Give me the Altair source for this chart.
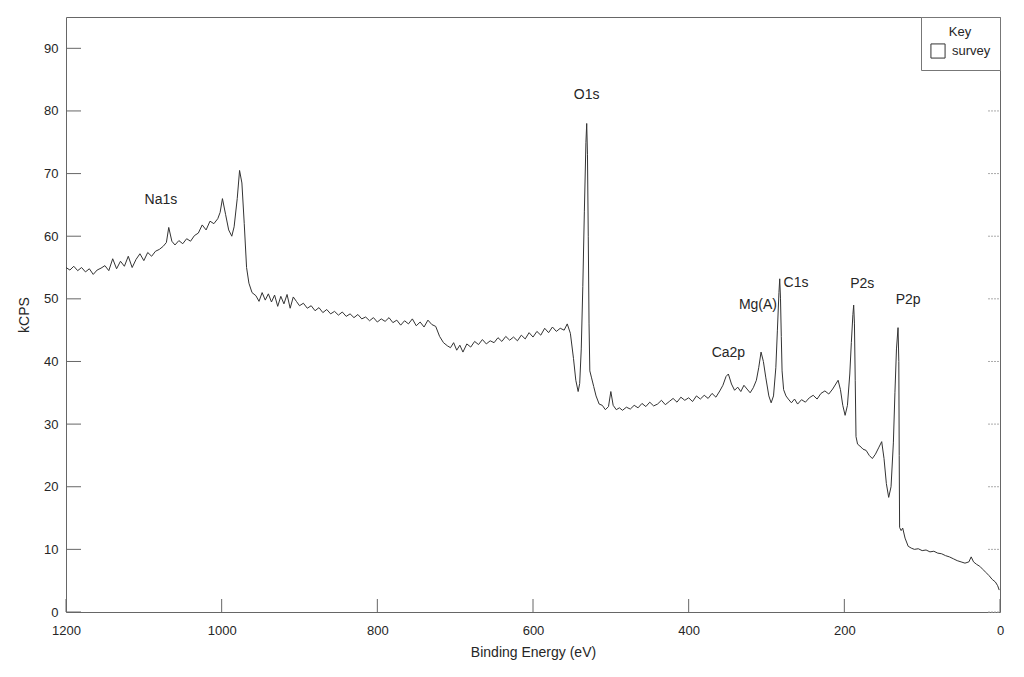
import altair as alt
import pandas as pd

# Binding energy (eV) and intensity (kCPS)
energy = [
    1200, 1195, 1190, 1185, 1180, 1175, 1170, 1165, 1160, 1155, 1150, 1145, 1140, 1135, 1130, 1125,
    1120, 1115, 1110, 1105, 1100, 1095, 1090, 1085, 1080, 1075, 1071, 1068, 1064, 1060, 1055, 1050,
    1045, 1040, 1035, 1030, 1025, 1020, 1015, 1010, 1005, 1002, 999, 995, 991, 987, 984, 980,
    977, 974, 971, 968, 965, 961, 956, 952, 948, 944, 940, 936, 932, 928, 924, 920,
    916, 912, 908, 904, 900, 895, 890, 885, 880, 875, 870, 865, 860, 855, 850, 845,
    840, 835, 830, 825, 820, 815, 810, 805, 800, 795, 790, 785, 780, 775, 770, 765,
    760, 755, 750, 745, 740, 735, 730, 725, 720, 715, 710, 706, 702, 698, 694, 690,
    685, 680, 675, 670, 665, 660, 655, 650, 645, 640, 635, 630, 625, 620, 615, 610,
    605, 600, 595, 590, 585, 580, 575, 570, 565, 560, 556, 552, 548, 545, 542, 540,
    538, 536, 534, 532, 531, 530, 529, 528, 527, 525, 522, 519, 515, 511, 507, 503,
    500, 497, 493, 489, 485, 480, 475, 470, 465, 460, 455, 450, 445, 440, 435, 430,
    425, 420, 415, 410, 405, 400, 395, 390, 385, 380, 375, 370, 365, 360, 356, 352,
    349, 345, 341, 337, 333, 329, 325, 321, 317, 313, 310, 307, 304, 301, 297, 294,
    291, 288, 286, 284, 283, 282, 281, 280, 278, 275, 272, 268, 264, 260, 255, 250,
    245, 240, 235, 230, 225, 220, 215, 211, 208, 205, 202, 199, 196, 193, 191, 189,
    188, 187, 186, 185, 183, 180, 176, 172, 168, 164, 160, 156, 152, 149, 146, 143,
    140, 137, 135, 133, 131, 130, 129.5, 129, 127, 125, 122, 118, 114, 110, 105, 100,
    95, 90, 85, 80, 75, 70, 65, 60, 55, 50, 45, 40, 37, 34, 30, 26,
    22, 18, 14, 10, 6, 3, 1,
]
kcps = [
    55.0, 54.6, 55.2, 54.5, 55.0, 54.3, 54.8, 53.9, 54.6, 54.9, 55.3, 54.5, 56.4, 54.8, 56.0, 55.2,
    56.8, 55.0, 56.3, 57.2, 56.1, 57.4, 56.8, 57.6, 57.9, 58.4, 59.0, 61.4, 59.2, 58.6, 59.3, 58.8,
    59.6, 59.2, 60.1, 60.5, 61.8, 61.0, 62.4, 62.0, 62.8, 63.8, 66.0, 63.5, 61.0, 60.0, 61.5, 66.0,
    70.5, 68.5, 62.0, 55.0, 52.5, 51.0, 50.5, 49.6, 51.0, 49.8, 50.8, 49.5, 50.6, 48.8, 50.4, 49.2,
    50.7, 48.5, 50.3, 49.6, 48.9, 49.3, 48.5, 48.9, 48.1, 48.6, 47.8, 48.3, 47.6, 48.0, 47.4, 47.9,
    47.2, 47.6, 47.0, 47.5, 46.8, 47.1, 46.5, 47.0, 46.3, 46.8, 46.4, 47.0, 46.2, 46.6, 45.8, 46.5,
    46.0, 46.8, 45.7, 46.3, 45.5, 46.6, 45.9, 45.6, 44.0, 43.0, 42.5, 42.2, 43.0, 41.8, 42.6, 41.5,
    42.8, 42.3, 43.2, 42.7, 43.5, 42.8, 43.3, 43.0, 43.8, 43.2, 44.0, 43.4, 43.9, 43.3, 44.2, 43.6,
    44.6, 43.9, 44.8, 44.2, 45.3, 44.6, 45.5, 44.8, 45.3, 45.0, 46.0, 44.5, 40.5, 37.0, 35.2, 36.5,
    42.0, 52.0, 64.0, 75.0, 78.0, 73.0, 60.0, 46.0, 38.5, 37.5, 36.0, 34.5, 33.2, 33.0, 32.3, 32.8,
    35.2, 33.0, 32.3, 32.6, 32.2, 32.7, 32.4, 33.0, 32.6, 33.3, 32.8, 33.5, 32.9, 33.2, 33.8, 33.1,
    33.6, 34.1, 33.5, 34.3, 33.8, 34.2, 33.6, 34.5, 34.0, 34.6, 34.1, 34.9, 34.3, 35.3, 36.2, 37.6,
    38.0, 36.4, 35.4, 35.9, 35.2, 36.2, 35.6, 35.0, 35.8, 37.0, 39.0, 41.5, 40.0, 37.5, 34.5, 33.4,
    34.5, 39.0, 45.0, 51.0, 53.2, 50.0, 44.0, 38.5, 35.5, 34.5, 34.0, 33.4, 34.0, 33.2, 33.9, 33.5,
    34.2, 34.6, 34.0, 34.9, 35.3, 34.8, 35.6, 36.4, 37.0, 35.5, 33.0, 31.4, 33.0, 38.0, 43.0, 47.5,
    49.0, 46.0, 37.0, 28.0, 26.8, 26.5, 26.0, 25.8, 25.0, 24.5, 25.2, 26.2, 27.2, 24.5, 20.5, 18.3,
    20.0, 27.0, 35.0, 42.0, 45.4, 40.0, 25.0, 13.5, 13.0, 13.4, 11.8, 10.5, 10.2, 10.0, 10.1, 9.8,
    9.9, 9.6, 9.7, 9.4, 9.3, 9.0, 8.8, 8.5, 8.2, 8.0, 7.8, 8.0, 8.8, 8.0, 7.6, 7.3,
    6.8, 6.3, 5.8, 5.2, 4.8, 4.2, 3.5,
]

peak_names = ["Na1s", "O1s", "Mg(A)", "C1s", "Ca2p", "P2s", "P2p"]
peak_label_x = [1078, 531, 311, 262, 349, 177, 118]
peak_label_y = [65.8, 82.5, 49.0, 52.5, 41.4, 52.4, 49.8]

x_ticks = [1200, 1000, 800, 600, 400, 200, 0]
y_ticks = [0, 10, 20, 30, 40, 50, 60, 70, 80, 90]

FONT = "Liberation Sans"
INK = "#262626"

df = pd.DataFrame({"energy": energy, "kcps": kcps, "series": ["survey"] * len(energy)})
labels_df = pd.DataFrame({"energy": peak_label_x, "kcps": peak_label_y, "name": peak_names})
yt_df = pd.DataFrame({"kcps": y_ticks})
xt_df = pd.DataFrame({"energy": x_ticks})

xscale = alt.Scale(domain=[0, 1200], reverse=True, nice=False, zero=False)
yscale = alt.Scale(domain=[0, 95], nice=False)

line = alt.Chart(df).mark_line(strokeWidth=1.0, interpolate="linear").encode(
    x=alt.X("energy:Q", scale=xscale,
            axis=alt.Axis(values=x_ticks, title="Binding Energy (eV)", ticks=False,
                          labelPadding=12, titlePadding=8, labelFlush=False, format="d")),
    y=alt.Y("kcps:Q", scale=yscale,
            axis=alt.Axis(values=y_ticks, title="kCPS", ticks=False,
                          labelPadding=8, titlePadding=12)),
    color=alt.Color("series:N", scale=alt.Scale(range=["#333333"]),
                    legend=alt.Legend(title="Key", orient="top-right", offset=0,
                                      symbolType="square", symbolSize=200,
                                      symbolFillColor="white", symbolStrokeColor="#666",
                                      symbolStrokeWidth=1, strokeColor="#777",
                                      fillColor="white", padding=9, titleAnchor="middle",
                                      titleFontWeight="normal", titleFontSize=13,
                                      labelFontSize=13, titleFont=FONT, labelFont=FONT,
                                      titleColor=INK, labelColor=INK, labelOffset=6,
                                      titlePadding=4)),
)

left_ticks = alt.Chart(yt_df).mark_rule(color="#666", strokeWidth=1).encode(
    y=alt.Y("kcps:Q", scale=yscale), x=alt.value(0), x2=alt.value(15))
right_ticks = alt.Chart(yt_df).mark_rule(color="#aaa", strokeWidth=1, strokeDash=[2, 1]).encode(
    y=alt.Y("kcps:Q", scale=yscale), x=alt.value(922), x2=alt.value(934))
bottom_ticks = alt.Chart(xt_df).mark_rule(color="#666", strokeWidth=1).encode(
    x=alt.X("energy:Q", scale=xscale), y=alt.value(595), y2=alt.value(582))

texts = alt.Chart(labels_df).mark_text(font=FONT, fontSize=14, color=INK).encode(
    x=alt.X("energy:Q", scale=xscale), y=alt.Y("kcps:Q", scale=yscale), text="name:N")

chart = alt.layer(line, left_ticks, right_ticks, bottom_ticks, texts).properties(
    width=934, height=595,
    autosize=alt.AutoSizeParams(type="none"),
    padding={"left": 58, "top": 9, "right": 16, "bottom": 60},
    background="white",
).configure_view(stroke="#666", strokeWidth=1).configure_axis(
    domain=False, grid=False, labelFont=FONT, titleFont=FONT, labelFontSize=13,
    titleFontSize=14, titleFontWeight="normal", labelColor=INK, titleColor=INK,
)

chart.save("out.html", embed_options={"renderer": "svg", "actions": False})
